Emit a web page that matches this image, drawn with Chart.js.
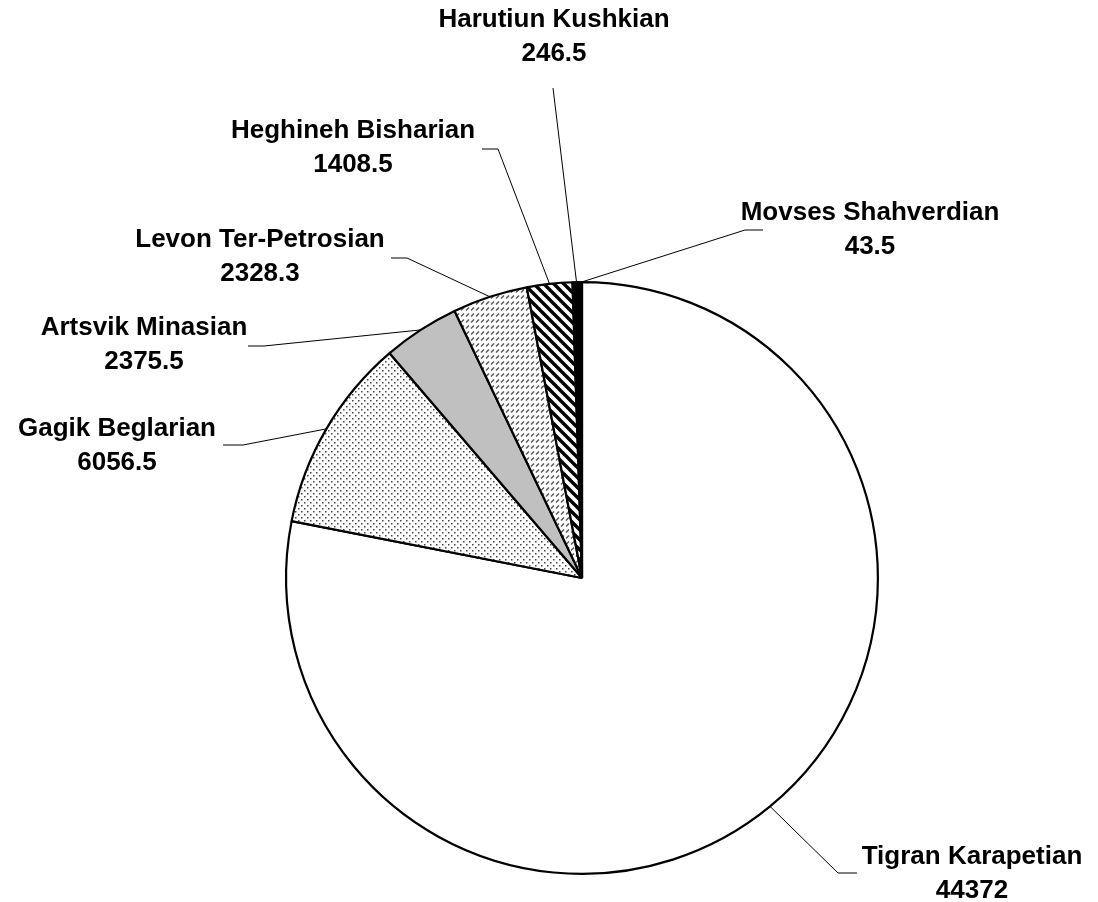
<!DOCTYPE html>
<html>
<head>
<meta charset="utf-8">
<script src="https://cdn.jsdelivr.net/npm/chart.js@4/dist/chart.umd.min.js"></script>
<style>
  html, body { margin: 0; padding: 0; background: #fff; }
  #wrap { width: 1098px; height: 902px; position: relative; }
</style>
</head>
<body>
<div id="wrap"><canvas id="myChart"></canvas></div>
<script>
// data, clockwise from 12 o'clock
const candidates = ["Tigran Karapetian", "Gagik Beglarian", "Artsvik Minasian", "Levon Ter-Petrosian",
                    "Heghineh Bisharian", "Harutiun Kushkian", "Movses Shahverdian"];
const votes = [44372, 6056.5, 2375.5, 2328.3, 1408.5, 246.5, 43.5];
const voteLabels = ["44372", "6056.5", "2375.5", "2328.3", "1408.5", "246.5", "43.5"];

// where each label sits (name line centre) and where its leader line bends / ends
const labelLayout = [
    { x: 972, y: 857, bend: [838, 873], end: [857, 873] },
    { x: 117, y: 429, bend: [243, 445], end: [223, 445] },
    { x: 144, y: 328, bend: [264, 346], end: [248, 346] },
    { x: 260, y: 240, bend: [407, 258], end: [391, 258] },
    { x: 353, y: 131, bend: [498, 149], end: [482, 149] },
    { x: 554, y: 20,  bend: [553, 88],  end: [553, 88] },
    { x: 870, y: 213, bend: [745, 230], end: [763, 230] },
];

function makePattern(w, h, draw) {
    let c = document.createElement("canvas");
    c.width = w;
    c.height = h;
    let g = c.getContext("2d");
    g.fillStyle = "#fff";
    g.fillRect(0, 0, w, h);
    draw(g);
    return c.getContext("2d").createPattern(c, "repeat");
}

const dots = makePattern(6, 6, g => {
    g.fillStyle = "#444";
    g.fillRect(1, 1, 1.5, 1.5);
    g.fillRect(4, 4, 1.5, 1.5);
});

const dashes = makePattern(5, 6, g => {
    g.strokeStyle = "#555";
    g.lineWidth = 1.4;
    g.beginPath();
    g.moveTo(1, 4.5);
    g.lineTo(4, 1.5);
    g.stroke();
});

const stripes = makePattern(10, 10, g => {
    g.strokeStyle = "#000";
    g.lineWidth = 3.4;
    g.beginPath();
    g.moveTo(-5, -5); g.lineTo(15, 15);
    g.moveTo(-5, 5); g.lineTo(5, 15);
    g.moveTo(5, -5); g.lineTo(15, 5);
    g.stroke();
});

const fills = ["#ffffff", dots, "#c0c0c0", dashes, stripes, "#000000", "#ffffff"];

const leaderLabels = {
    id: "leaderLabels",
    afterDatasetsDraw(chart) {
        const c = chart.ctx;
        const arcs = chart.getDatasetMeta(0).data;
        c.save();
        c.strokeStyle = "#000";
        c.lineWidth = 1;
        arcs.forEach((arc, i) => {
            const p = arc.getProps(["x", "y", "startAngle", "endAngle", "outerRadius"], true);
            const mid = (p.startAngle + p.endAngle) / 2;
            const sx = p.x + Math.cos(mid) * p.outerRadius;
            const sy = p.y + Math.sin(mid) * p.outerRadius;
            const L = labelLayout[i];
            c.beginPath();
            c.moveTo(sx, sy);
            c.lineTo(L.bend[0], L.bend[1]);
            c.lineTo(L.end[0], L.end[1]);
            c.stroke();
        });
        c.fillStyle = "#000";
        c.font = 'bold 26px "Liberation Sans", Arial, sans-serif';
        c.textAlign = "center";
        c.textBaseline = "middle";
        candidates.forEach((name, i) => {
            const L = labelLayout[i];
            c.fillText(name, L.x, L.y);
            c.fillText(voteLabels[i], L.x, L.y + 34);
        });
        c.restore();
    }
};

const ctx = document.getElementById("myChart");

const chart = new Chart(ctx, {
    type: "pie",
    data: {
        labels: candidates,
        datasets: [
            {
                data: votes,
                backgroundColor: fills,
                borderColor: "#000",
                borderWidth: 2.2,
            },
        ],
    },
    options: {
        responsive: true,
        maintainAspectRatio: false,
        animation: false,
        layout: {
            padding: { top: 281, bottom: 27, left: 285, right: 219 }
        },
        plugins: {
            legend: { display: false },
            tooltip: { enabled: false },
        },
    },
    plugins: [leaderLabels],
});
</script>
</body>
</html>
